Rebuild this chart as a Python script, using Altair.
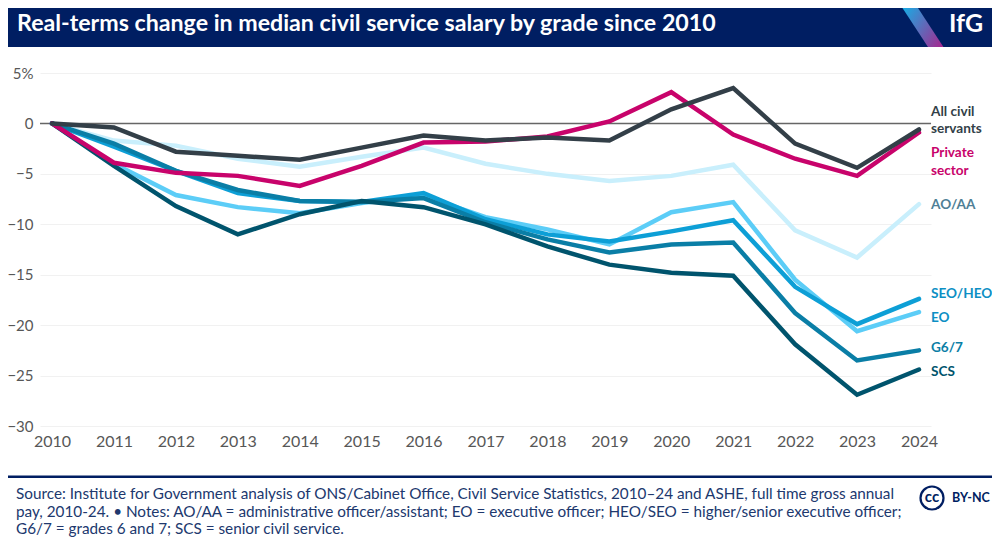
import altair as alt
import pandas as pd

YEARS = list(range(2010, 2025))
AO_AA = [0, -1.7, -2.2, -3.5, -4.3, -3.3, -2.4, -4.0, -5.0, -5.7, -5.2, -4.1, -10.6, -13.3, -8.0]
EO = [0, -4.0, -7.1, -8.3, -8.9, -7.9, -7.2, -9.3, -10.5, -12.0, -8.8, -7.8, -15.5, -20.6, -18.7]
SEO_HEO = [0, -2.3, -4.7, -6.9, -7.7, -7.8, -6.9, -9.5, -11.0, -11.7, -10.7, -9.6, -16.2, -19.9, -17.4]
G6_7 = [0, -2.0, -4.7, -6.6, -7.7, -7.8, -7.4, -9.8, -11.5, -12.8, -12.0, -11.8, -18.8, -23.5, -22.5]
SCS = [0, -4.2, -8.2, -11.0, -9.0, -7.7, -8.3, -10.0, -12.2, -14.0, -14.8, -15.1, -21.9, -26.9, -24.4]
PRIVATE = [0, -3.9, -4.9, -5.2, -6.2, -4.2, -1.9, -1.8, -1.3, 0.2, 3.1, -1.1, -3.5, -5.2, -0.9]
ALL_CS = [0, -0.4, -2.8, -3.2, -3.6, -2.4, -1.2, -1.7, -1.4, -1.7, 1.4, 3.5, -2.0, -4.4, -0.6]
Y_TICKS = [5, 0, -5, -10, -15, -20, -25, -30]

TITLE = "Real-terms change in median civil service salary by grade since 2010"
LOGO = "IfG"
FOOT = [
    "Source: Institute for Government analysis of ONS/Cabinet Office, Civil Service Statistics, 2010–24 and ASHE, full time gross annual",
    "pay, 2010-24. • Notes: AO/AA = administrative officer/assistant; EO = executive officer; HEO/SEO = higher/senior executive officer;",
    "G6/7 = grades 6 and 7; SCS = senior civil service.",
]

FONT = "Lato"
NAVY = "#001e62"
L, T = 40, 73          # page position of the plot area's corner
W, H = 891, 353
TOTAL_W, TOTAL_H = 984, 530
PX = lambda x: x - L
PY = lambda y: y - T

series = [
    ("AO/AA", AO_AA, "#c9effc"),
    ("EO", EO, "#5ccdf7"),
    ("SEO/HEO", SEO_HEO, "#0d9fd6"),
    ("G6/7", G6_7, "#0a7ea6"),
    ("SCS", SCS, "#00546d"),
    ("Private sector", PRIVATE, "#c8036b"),
    ("All civil servants", ALL_CS, "#333f48"),
]
df = pd.DataFrame(
    [{"year": yr, "value": v, "series": name} for name, vals, _ in series for yr, v in zip(YEARS, vals)]
)

x = alt.X(
    "year:Q",
    scale=alt.Scale(domain=[2009.806, 2024.194], nice=False, zero=False),
    axis=alt.Axis(
        values=YEARS, format="d", title=None, grid=False, domain=False, ticks=False,
        labelFont=FONT, labelFontSize=16, labelColor="#575757", labelPadding=15,
        labelFlush=False, labelOverlap=False, labelBaseline="middle",
    ),
)
y = alt.Y(
    "value:Q",
    scale=alt.Scale(domain=[-30, 5], nice=False, zero=False),
    axis=alt.Axis(
        values=Y_TICKS, title=None, domain=False, ticks=False, grid=True,
        gridColor="#f1f1f1", gridWidth=1, labelFont=FONT, labelFontSize=15,
        labelColor="#575757", labelPadding=7, labelExpr="datum.value == 5 ? '5%' : datum.label",
    ),
)

base = alt.Chart(df)
lines = base.mark_line(strokeWidth=4.5, strokeCap="round", strokeJoin="miter", clip=False).encode(
    x=x, y=y,
    color=alt.Color("series:N", legend=None,
                    scale=alt.Scale(domain=[s[0] for s in series], range=[s[2] for s in series])),
    order=alt.Order("year:Q"),
    detail="series:N",
)
zero = alt.Chart(pd.DataFrame({"z": [0]})).mark_rule(color="#666666", strokeWidth=1.5).encode(y=alt.Y("z:Q"))


def text(s, px, py, size, color, weight="normal", align="left", **kw):
    return alt.Chart(pd.DataFrame({"a": [0]})).mark_text(
        text=s, font=FONT, fontSize=size, color=color, fontWeight=weight, align=align,
        baseline="middle", **kw
    ).encode(x=alt.value(PX(px)), y=alt.value(PY(py)))


def rect(x1, y1, x2, y2, color):
    return alt.Chart(pd.DataFrame({"a": [0]})).mark_rect(color=color).encode(
        x=alt.value(PX(x1)), x2=alt.value(PX(x2)), y=alt.value(PY(y1)), y2=alt.value(PY(y2))
    )


banner = rect(0, 0, 1000, 47, NAVY)
slash = alt.Chart(pd.DataFrame({"a": [0]})).mark_rule(
    strokeWidth=13,
    stroke=alt.LinearGradient(
        gradient="linear", x1=0, y1=0, x2=1, y2=1,
        stops=[alt.GradientStop(offset=0, color="#12b2e8"), alt.GradientStop(offset=1, color="#a5288f")],
    ),
).encode(x=alt.value(PX(905)), x2=alt.value(PX(939)), y=alt.value(PY(0)), y2=alt.value(PY(52)))
slash_mask = rect(895, 47, 960, 60, "#ffffff")

labels = [
    ("All civil", 112, "#333f48"), ("servants", 129, "#333f48"),
    ("Private", 153, "#c8036b"), ("sector", 170.5, "#c8036b"),
    ("AO/AA", 205, "#4f7f96"), ("SEO/HEO", 294, "#0d8fc4"), ("EO", 318, "#0d8fc4"),
    ("G6/7", 348, "#0a7ea6"), ("SCS", 372, "#00546d"),
]
label_layers = [text(s, 931, py, 13.6, c, "bold") for s, py, c in labels]

foot_rule = rect(6, 475.5, 992, 478, NAVY)
foot_layers = [text(s, 16, py, 15.3, "#20386e") for s, py in zip(FOOT, [494, 511.5, 529])]
cc_circle = alt.Chart(pd.DataFrame({"a": [0]})).mark_point(
    shape="circle", size=529, filled=False, stroke=NAVY, strokeWidth=2.2, opacity=1
).encode(x=alt.value(PX(932)), y=alt.value(PY(498)))

chart = alt.layer(
    zero, lines,
    banner, slash, slash_mask,
    text(TITLE, 17, 24, 23.2, "#ffffff", "bold"),
    text(LOGO, 949, 24, 25, "#ffffff", "bold"),
    *label_layers,
    foot_rule, *foot_layers,
    cc_circle,
    text("cc", 932, 497, 15, NAVY, "bold", align="center"),
    text("BY-NC", 952, 498, 12.5, NAVY, "bold"),
).properties(
    width=W, height=H,
    autosize=alt.AutoSizeParams(type="none"),
    padding={"left": L - 8, "top": T - 8, "right": TOTAL_W - (L - 8) - W, "bottom": TOTAL_H - (T - 8) - H},
    background="#ffffff",
).configure_view(stroke=None)

chart.save("out.html", embed_options={"renderer": "svg", "actions": False})
